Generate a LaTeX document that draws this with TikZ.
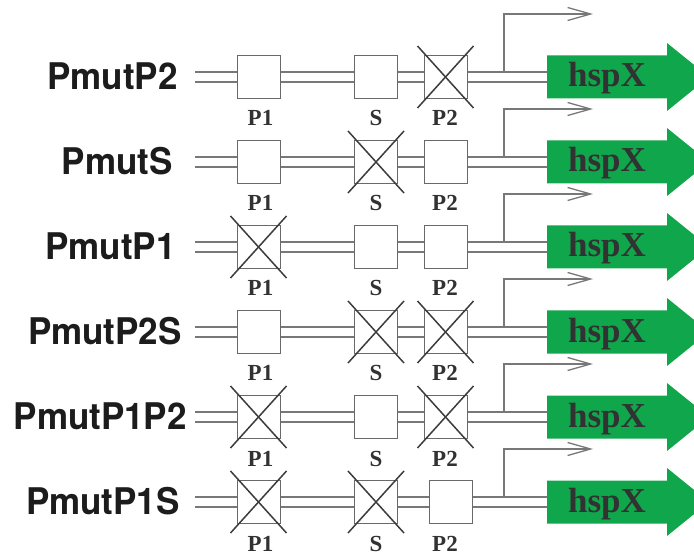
\documentclass[tikz,border=0pt]{standalone}
\usepackage{fontspec}
\newfontfamily\rowfont{TeX Gyre Heros}
\newfontfamily\tagfont{Liberation Serif}
\usetikzlibrary{arrows.meta}
\definecolor{genegreen}{RGB}{16,166,76}
\definecolor{wire}{RGB}{120,120,120}
\definecolor{boxline}{RGB}{105,105,105}
\definecolor{crossink}{RGB}{60,60,60}
\definecolor{tagink}{RGB}{50,50,50}
\definecolor{rowink}{RGB}{28,28,28}
\tikzset{
  dna/.style={draw=wire, line width=1.3pt, double=white, double distance=8.7pt},
  sitebox/.style={draw=boxline, line width=1pt, fill=white, minimum width=43pt,
    minimum height=43pt, inner sep=0pt},
  knockout/.style={draw=crossink, line width=1.5pt},
  sitetag/.style={font=\tagfont\bfseries\fontsize{23}{23}\selectfont, text=tagink,
    anchor=base, inner sep=0pt},
  rowtag/.style={font=\rowfont\bfseries\fontsize{35}{35}\selectfont, text=rowink,
    anchor=base east, inner sep=0pt},
  genetag/.style={font=\tagfont\bfseries\fontsize{35}{35}\selectfont, text=tagink,
    anchor=base, inner sep=0pt},
  transcript/.style={draw=wire, line width=1.3pt,
    -{Straight Barb[length=23pt,width=13pt,line width=1.3pt]}},
}
\begin{document}
\begin{tikzpicture}[x=1pt, y=-1pt]
\useasboundingbox (0,0) rectangle (694,556);
% row / centre y / label / label right edge / knockouts P1,S,P2 / P2 box x / branch height
\foreach \i/\cy/\name/\rx/\ka/\kb/\kc/\pbx/\bh in {
  1/77/PmutP2/178/0/0/1/445.5/58,
  2/162/PmutS/173/0/1/0/445.5/48,
  3/247/PmutP1/176/1/0/0/445.5/48,
  4/332/PmutP2S/182/0/1/1/445.5/48,
  5/417/PmutP1P2/187/1/0/1/445.5/48,
  6/502/PmutP1S/180/1/1/0/450.5/48}{
  % promoter sites
  \node[sitebox] (p1-\i) at (258.5,\cy) {};
  \node[sitebox] (s-\i) at (376,\cy) {};
  \node[sitebox] (p2-\i) at (\pbx,\cy) {};
  \coordinate (in-\i) at (195,\cy);
  \coordinate (gene-\i) at (547,\cy);
  \coordinate (br-\i) at (504,\cy-5);
  \coordinate (tss-\i) at (593,\cy-5-\bh);
  % DNA strand between the sites
  \draw[dna] (in-\i) -- (p1-\i.west);
  \draw[dna] (p1-\i.east) -- (s-\i.west);
  \draw[dna] (s-\i.east) -- (p2-\i.west);
  \draw[dna] (p2-\i.east) -- (gene-\i);
  % transcription start
  \draw[transcript] (br-\i) |- (tss-\i);
  % gene arrow
  \fill[genegreen] (gene-\i) ++(0,-21.5) -- ++(120,0) -- ++(0,-12.5) -- ++(42,34)
    -- ++(-42,34) -- ++(0,-12.5) -- ++(-120,0) -- cycle;
  \node[genetag] (hsp-\i) at (607,\cy+10) {hspX};
  % labels
  \node[rowtag] (row-\i) at (\rx,\cy+12.5) {\scalebox{1}[1.05]{\name}};
  \node[sitetag] (tp1-\i) at (260.5,\cy+49) {P1};
  \node[sitetag] (ts-\i) at (376,\cy+49) {S};
  \node[sitetag] (tp2-\i) at (445,\cy+49) {P2};
  % knocked-out sites
  \ifnum\ka=1
    \draw[knockout] ([shift={(-28,-31)}]p1-\i.center) -- ([shift={(28,31)}]p1-\i.center);
    \draw[knockout] ([shift={(28,-31)}]p1-\i.center) -- ([shift={(-28,31)}]p1-\i.center);
  \fi
  \ifnum\kb=1
    \draw[knockout] ([shift={(-28,-31)}]s-\i.center) -- ([shift={(28,31)}]s-\i.center);
    \draw[knockout] ([shift={(28,-31)}]s-\i.center) -- ([shift={(-28,31)}]s-\i.center);
  \fi
  \ifnum\kc=1
    \draw[knockout] ([shift={(-28,-31)}]p2-\i.center) -- ([shift={(28,31)}]p2-\i.center);
    \draw[knockout] ([shift={(28,-31)}]p2-\i.center) -- ([shift={(-28,31)}]p2-\i.center);
  \fi
}
\end{tikzpicture}
\end{document}
